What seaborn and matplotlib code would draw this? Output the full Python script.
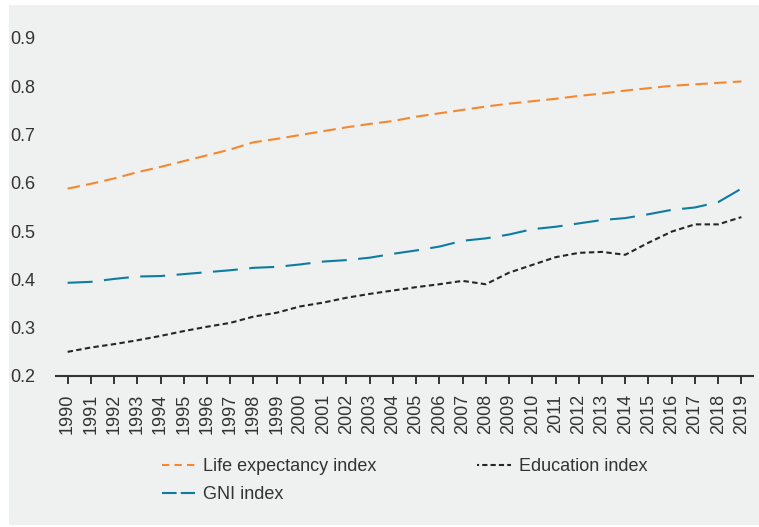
import matplotlib
matplotlib.use("Agg")
import matplotlib.pyplot as plt
from matplotlib.patches import Rectangle
from matplotlib.lines import Line2D
import seaborn as sns
import pandas as pd

years = list(range(1990, 2020))
life_expectancy = [0.588, 0.598, 0.609, 0.622, 0.633, 0.645, 0.657, 0.669, 0.684, 0.691,
                   0.699, 0.707, 0.715, 0.722, 0.728, 0.737, 0.744, 0.751, 0.758, 0.764,
                   0.769, 0.774, 0.780, 0.785, 0.791, 0.796, 0.801, 0.804, 0.807, 0.810]
education = [0.250, 0.259, 0.266, 0.274, 0.283, 0.293, 0.302, 0.310, 0.323, 0.331,
             0.344, 0.352, 0.362, 0.370, 0.377, 0.384, 0.390, 0.397, 0.390, 0.414,
             0.430, 0.446, 0.455, 0.457, 0.451, 0.476, 0.499, 0.514, 0.514, 0.529]
gni = [0.393, 0.395, 0.401, 0.406, 0.407, 0.411, 0.415, 0.419, 0.424, 0.426,
       0.431, 0.437, 0.440, 0.445, 0.453, 0.460, 0.468, 0.480, 0.485, 0.493,
       0.504, 0.509, 0.516, 0.523, 0.527, 0.535, 0.544, 0.549, 0.560, 0.588]
y_ticks = [0.2, 0.3, 0.4, 0.5, 0.6, 0.7, 0.8, 0.9]
labels = ["Life expectancy index", "Education index", "GNI index"]

df = pd.DataFrame({"year": years, labels[0]: life_expectancy,
                   labels[1]: education, labels[2]: gni})

sns.set_theme(style="white")
plt.rcParams["font.family"] = ["Liberation Sans", "DejaVu Sans"]
TEXT = "#333333"
FS = 13
LW = 1.5

W, H = 759, 527
fig = plt.figure(figsize=(W / 100, H / 100), dpi=100, facecolor="white")
fig.patches.append(Rectangle((9 / W, 2 / H), 1 - 9 / W, 1 - 7 / H,
                             transform=fig.transFigure, facecolor="#eff0f0",
                             edgecolor="none", zorder=-10))
top_px = 376 - 0.72 * 482.9
ax = fig.add_axes([56 / W, 1 - 376 / H, (753 - 56) / W, (376 - top_px) / H])
ax.set_facecolor("none")

colors = {labels[0]: "#f5882f", labels[1]: "#262626", labels[2]: "#0e7ca0"}
line_dash = {labels[0]: (0, (6, 3)), labels[1]: (0, (2.6, 1.6)), labels[2]: (0, (12, 5.5))}
legend_dash = {labels[0]: (0, (3.5, 2.5)), labels[1]: (1.5, (2.5, 1.5)), labels[2]: (0, (7, 2))}

for name in labels:
    sns.lineplot(data=df, x="year", y=name, ax=ax, linewidth=LW, legend=False,
                 color=colors[name], linestyle=line_dash[name])

ax.set_xlim(1989.5, 2019.5)
ax.set_ylim(0.2, 0.92)
ax.set_xticks(years)
ax.set_xticklabels([str(y) for y in years], rotation=90)
ax.set_yticks(y_ticks)
ax.set_yticklabels([f"{v:.1f}" for v in y_ticks])
ax.set_xlabel("")
ax.set_ylabel("")
for s in ["top", "right", "left"]:
    ax.spines[s].set_visible(False)
ax.spines["bottom"].set_color(TEXT)
ax.spines["bottom"].set_linewidth(1.5)
ax.tick_params(axis="x", direction="out", length=6, width=1.4, color=TEXT,
               labelsize=FS, labelcolor=TEXT, pad=7, bottom=True)
ax.tick_params(axis="y", length=0, labelsize=FS, labelcolor=TEXT, pad=15)

order = [labels[0], labels[2], labels[1]]
handles = [Line2D([], [], color=colors[n], linewidth=LW, linestyle=legend_dash[n])
           for n in order]
leg = fig.legend(handles=handles, labels=order,
                 ncol=2, loc="center", bbox_to_anchor=(404.5 / W, 1 - 480.5 / H),
                 frameon=False, fontsize=FS, handlelength=1.83, handletextpad=0.45,
                 columnspacing=5.6, labelspacing=0.62)
for t in leg.get_texts():
    t.set_color(TEXT)

fig.savefig("out.png", dpi=100, facecolor="white")
